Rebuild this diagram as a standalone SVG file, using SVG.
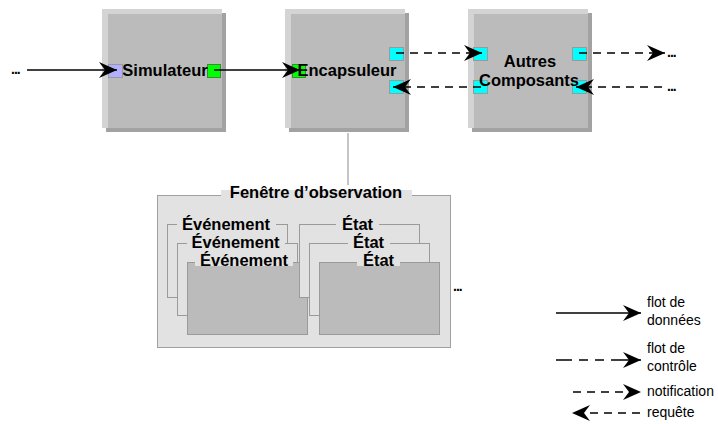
<svg xmlns="http://www.w3.org/2000/svg" width="718" height="424" viewBox="0 0 718 424">
<style>
.lbl{font-family:"Liberation Sans",Arial,sans-serif;font-weight:bold;font-size:16.5px;fill:#000}
.leg{font-family:"Liberation Sans",Arial,sans-serif;font-size:14px;fill:#000}
.dots{font-family:"Liberation Sans",Arial,sans-serif;font-weight:bold;font-size:14px;letter-spacing:-1px;fill:#000}
.hl{fill:#d4d4d4}
.sh{fill:#a2a2a2}
.body{fill:#bbbbbb}
.port-c{fill:#00ffff;stroke:#9a9a9a;stroke-width:1}
.port-g{fill:#00ff00;stroke:#3a8a3a;stroke-width:1}
.port-l{fill:#b0b0ff;stroke:#9a9a9a;stroke-width:1}
.solid{stroke:#000;stroke-width:1.6;fill:none}
.dash{stroke:#000;stroke-width:1.6;fill:none;stroke-dasharray:8 6}
.win{fill:#e2e2e2;stroke:#a0a0a0;stroke-width:1}
.sub{fill:#e2e2e2;stroke:#9a9a9a;stroke-width:1}
.subf{fill:#bbbbbb;stroke:#9a9a9a;stroke-width:1}
.ko{fill:#e2e2e2}
</style>
<defs>
<marker id="ah" markerUnits="userSpaceOnUse" markerWidth="20" markerHeight="16" refX="18" refY="8" orient="auto">
<path d="M0,0 L18,8 L0,16 L6,8 z" fill="#000"/>
</marker>
</defs>

<g id="simulateur">
<rect class="sh" x="106" y="13" width="120" height="119"/>
<rect class="hl" x="102" y="9" width="120" height="119"/>
<rect class="body" x="108" y="14" width="114" height="114"/>
<rect class="port-l" x="108.5" y="64.5" width="14" height="13"/>
<rect class="port-g" x="207.5" y="64.5" width="13" height="13"/>
<text class="lbl" x="165" y="76" text-anchor="middle">Simulateur</text>
</g>

<g id="encapsuleur">
<rect class="sh" x="289" y="13" width="120" height="119"/>
<rect class="hl" x="285" y="9" width="120" height="119"/>
<rect class="body" x="291" y="14" width="114" height="114"/>
<rect class="port-g" x="292.5" y="64.5" width="13" height="13"/>
<rect class="port-c" x="389.5" y="47.5" width="14" height="13"/>
<rect class="port-c" x="389.5" y="80.5" width="14" height="13"/>
<text class="lbl" x="347" y="76" text-anchor="middle">Encapsuleur</text>
</g>

<g id="autres">
<rect class="sh" x="472" y="13" width="120" height="119"/>
<rect class="hl" x="468" y="9" width="120" height="119"/>
<rect class="body" x="474" y="14" width="114" height="114"/>
<rect class="port-c" x="473.5" y="47.5" width="14" height="13"/>
<rect class="port-c" x="473.5" y="80.5" width="14" height="13"/>
<rect class="port-c" x="572.5" y="47.5" width="14" height="13"/>
<rect class="port-c" x="572.5" y="80.5" width="14" height="13"/>
<text class="lbl" x="530" y="67" text-anchor="middle">Autres</text>
<text class="lbl" x="529" y="86" text-anchor="middle">Composants</text>
</g>

<g id="fenetre">
<rect class="win" x="157.5" y="195.5" width="293" height="152"/>
<rect class="ko" x="221" y="190" width="191" height="10"/>
<text class="lbl" x="316" y="198" text-anchor="middle">Fenêtre d’observation</text>
</g>

<g id="evenements">
<rect class="sub" x="167.5" y="224.5" width="120" height="73"/>
<rect class="ko" x="177" y="220" width="99" height="8"/>
<text class="lbl" x="226" y="230" text-anchor="middle">Événement</text>
<rect class="sub" x="177.5" y="243.5" width="120" height="72"/>
<rect class="ko" x="187" y="239" width="98" height="8"/>
<text class="lbl" x="235.5" y="248" text-anchor="middle">Événement</text>
<rect class="subf" x="187.5" y="262.5" width="120" height="72"/>
<rect class="ko" x="195" y="258" width="98" height="8"/>
<text class="lbl" x="244" y="266" text-anchor="middle">Événement</text>
</g>

<g id="etats">
<rect class="sub" x="299.5" y="224.5" width="120" height="73"/>
<rect class="ko" x="336" y="220" width="43" height="8"/>
<text class="lbl" x="357.5" y="230" text-anchor="middle">État</text>
<rect class="sub" x="309.5" y="243.5" width="120" height="72"/>
<rect class="ko" x="348" y="239" width="42" height="8"/>
<text class="lbl" x="368.5" y="248" text-anchor="middle">État</text>
<rect class="subf" x="319.5" y="262.5" width="120" height="72"/>
<rect class="ko" x="357" y="258" width="43" height="8"/>
<text class="lbl" x="378.5" y="266" text-anchor="middle">État</text>
<text class="dots" x="453" y="291">...</text>
</g>

<g id="connecteurs">
<text class="dots" x="11" y="74">...</text>
<line class="solid" x1="27" y1="70" x2="117" y2="70" marker-end="url(#ah)"/>
<line class="solid" x1="214" y1="70" x2="300" y2="70" marker-end="url(#ah)"/>
<line class="dash" x1="396" y1="53" x2="482" y2="53" marker-end="url(#ah)"/>
<line class="dash" x1="481" y1="87" x2="393" y2="87" marker-end="url(#ah)"/>
<line class="dash" x1="579" y1="53" x2="665" y2="53" marker-end="url(#ah)"/>
<text class="dots" x="667" y="57">...</text>
<line class="dash" x1="662" y1="87" x2="576" y2="87" marker-end="url(#ah)"/>
<text class="dots" x="667" y="91">...</text>
<line x1="348" y1="133" x2="348" y2="185" stroke="#8a8a8a" stroke-width="1"/>
</g>

<g id="legende">
<line class="solid" x1="556" y1="313" x2="641" y2="313" marker-end="url(#ah)"/>
<text class="leg" x="647" y="307">flot de</text>
<text class="leg" x="647" y="325">données</text>
<line class="solid" x1="556" y1="360" x2="641" y2="360" stroke-dasharray="16 7 9 7 9 7 30" marker-end="url(#ah)"/>
<text class="leg" x="647" y="353">flot de</text>
<text class="leg" x="647" y="371">contrôle</text>
<line class="dash" x1="573" y1="392" x2="641" y2="392" marker-end="url(#ah)"/>
<text class="leg" x="647" y="396">notification</text>
<line class="dash" x1="640" y1="413" x2="572" y2="413" marker-end="url(#ah)"/>
<text class="leg" x="647" y="417">requête</text>
</g>
</svg>
